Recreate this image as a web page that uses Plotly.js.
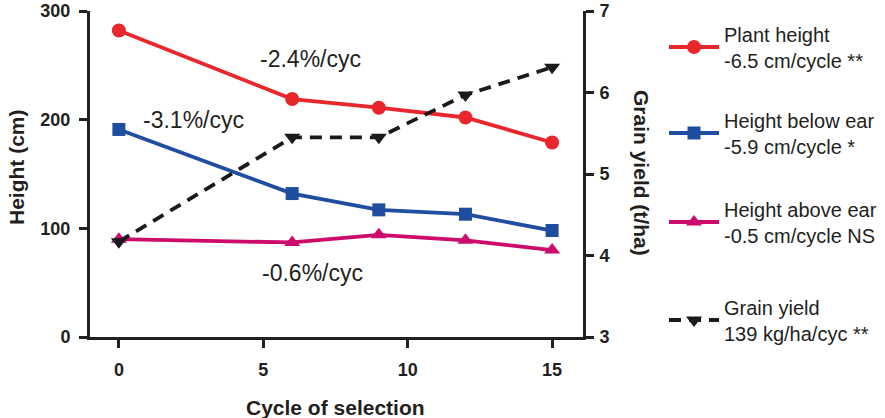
<!DOCTYPE html>
<html><head><meta charset="utf-8">
<script src="https://cdn.plot.ly/plotly-3.0.1.min.js"></script>
<style>html,body{margin:0;padding:0;background:#fff}#chart{width:885px;height:418px}</style>
</head><body><div id="chart"></div>
<script>
const cycles = [0, 6, 9, 12, 15];
const plantHeight = [282, 219, 211, 202, 179];
const heightBelowEar = [191, 132, 117, 113, 98];
const heightAboveEar = [90, 87, 94, 89, 80];
const grainYield = [4.17, 5.45, 5.45, 5.97, 6.31];
const seriesNames = [
  'Plant height<br>-6.5 cm/cycle **',
  'Height below ear<br>-5.9 cm/cycle *',
  'Height above ear<br>-0.5 cm/cycle NS',
  'Grain yield<br>139 kg/ha/cyc **'
];
const xTicks = [0, 5, 10, 15];
const yLeftTicks = [0, 100, 200, 300];
const yRightTicks = [3, 4, 5, 6, 7];
const rateLabels = ['-2.4%/cyc', '-3.1%/cyc', '-0.6%/cyc'];

const FONT = 'Liberation Sans, Arial, sans-serif';
const TXT = '#231f20';
const W = 885, H = 418;
const M = {l: 90, r: 302, t: 11, b: 81};
const PW = W - M.l - M.r, PH = H - M.t - M.b;
const px = v => (v - M.l) / PW;          // pixel -> paper x
const py = v => (H - M.b - v) / PH;      // pixel -> paper y

const traces = [
  {x: cycles, y: plantHeight, name: seriesNames[0], mode: 'lines+markers', legend: 'legend',
   line: {color: '#e8262b', width: 3.8}, marker: {symbol: 'circle', size: 14, color: '#e8262b'}},
  {x: cycles, y: heightBelowEar, name: seriesNames[1], mode: 'lines+markers', legend: 'legend2',
   line: {color: '#1f4ea1', width: 3.8}, marker: {symbol: 'square', size: 13, color: '#1f4ea1'}},
  {x: cycles, y: heightAboveEar, name: seriesNames[2], mode: 'lines+markers', legend: 'legend3',
   line: {color: '#cc0b6b', width: 3.8}, marker: {symbol: 'triangle-up', size: 14, color: '#cc0b6b'}},
  {x: cycles, y: grainYield, name: seriesNames[3], mode: 'lines+markers', yaxis: 'y2', legend: 'legend4',
   line: {color: '#1a1a1a', width: 3.8, dash: '12px,8px'}, marker: {symbol: 'triangle-down', size: 14, color: '#1a1a1a'}}
];

function leg(pyv) {
  return {x: 664 / W, y: 1 - pyv / H, xref: 'container', yref: 'container', xanchor: 'left', yanchor: 'middle',
    font: {family: FONT, size: 20, color: TXT}, bgcolor: 'rgba(0,0,0,0)', itemwidth: 50};
}

const axisBase = {showgrid: false, zeroline: false, showline: true, linecolor: TXT, linewidth: 3,
  ticks: 'outside', ticklen: 8, tickwidth: 3, tickcolor: TXT, automargin: false,
  tickfont: {family: FONT, size: 18, color: TXT, weight: 'bold'}};

const titleFont = {family: FONT, size: 21, color: TXT, weight: 'bold'};
const rateFont = {family: FONT, size: 23, color: TXT};

const layout = {
  width: W, height: H,
  margin: M,
  paper_bgcolor: '#fff', plot_bgcolor: '#fff',
  font: {family: FONT, color: TXT},
  showlegend: true,
  legend: leg(47),
  legend2: leg(133),
  legend3: leg(222),
  legend4: leg(320),
  xaxis: Object.assign({}, axisBase, {range: [-1, 16.07], tickvals: xTicks, ticklabelstandoff: 6}),
  yaxis: Object.assign({}, axisBase, {range: [0, 300], tickvals: yLeftTicks, ticklabelstandoff: 5}),
  yaxis2: Object.assign({}, axisBase, {range: [3, 7], tickvals: yRightTicks, overlaying: 'y', side: 'right', ticklabelstandoff: 2}),
  annotations: [
    {text: rateLabels[0], x: 6.65, y: 256, xref: 'x', yref: 'y', showarrow: false, font: rateFont},
    {text: rateLabels[1], x: 2.6, y: 200, xref: 'x', yref: 'y', showarrow: false, font: rateFont},
    {text: rateLabels[2], x: 6.7, y: 59, xref: 'x', yref: 'y', showarrow: false, font: rateFont},
    {text: 'Height (cm)', x: px(16), y: py(167), xref: 'paper', yref: 'paper', showarrow: false,
     textangle: -90, xanchor: 'center', yanchor: 'middle', font: titleFont},
    {text: 'Cycle of selection', x: px(335), y: py(407), xref: 'paper', yref: 'paper', showarrow: false,
     xanchor: 'center', yanchor: 'middle', font: titleFont},
    {text: 'Grain yield (t/ha)', x: px(642), y: py(173), xref: 'paper', yref: 'paper', showarrow: false,
     textangle: 90, xanchor: 'center', yanchor: 'middle', font: titleFont}
  ]
};

Plotly.newPlot('chart', traces, layout, {displayModeBar: false, staticPlot: true});
</script></body></html>
